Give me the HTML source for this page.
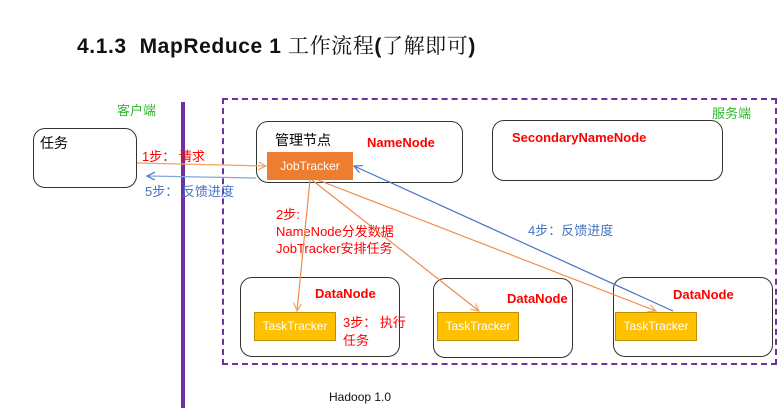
<!DOCTYPE html>
<html><head><meta charset="utf-8"><style>
body{margin:0;width:781px;height:414px;background:#fff;overflow:hidden;position:relative;font-family:"Liberation Sans","Noto Sans CJK SC",sans-serif}
.t{position:absolute;white-space:nowrap}
.box{position:absolute;border:1.5px solid #333;border-radius:12px;box-sizing:border-box;background:#fff}
.tt{position:absolute;background:#ffc000;border:1px solid #c09000;color:#fff;font-size:12px;text-align:center;box-sizing:border-box;line-height:27px}
.red{color:#f00}
.b{font-weight:bold;font-size:13px;color:#f00}
</style></head><body>
<div class="t" style="left:77px;top:30px;font-size:21px;font-weight:bold;color:#111;letter-spacing:0.6px">4.1.3&nbsp; MapReduce 1 <span style="font-weight:normal;font-family:'Noto Serif CJK SC',serif">工作流程</span>(<span style="font-weight:normal;font-family:'Noto Serif CJK SC',serif">了解即可</span>)</div>
<div style="position:absolute;left:222px;top:98px;width:555px;height:267px;border:2px dashed #7030a0;box-sizing:border-box"></div>
<div style="position:absolute;left:181px;top:102px;width:4px;height:306px;background:#7030a0"></div>
<div class="t" style="left:117px;top:100px;font-size:13px;color:#2cb82c">客户端</div>
<div class="t" style="left:712px;top:103px;font-size:13px;color:#2cb82c">服务端</div>
<div class="box" style="left:33px;top:128px;width:104px;height:60px"></div>
<div class="t" style="left:40px;top:133px;font-size:14px">任务</div>
<div class="box" style="left:256px;top:121px;width:207px;height:62px"></div>
<div class="t" style="left:275px;top:130px;font-size:14px">管理节点</div>
<div class="t b" style="left:367px;top:135px">NameNode</div>
<div style="position:absolute;left:267px;top:152px;width:86px;height:28px;background:#ed7d31;color:#fff;font-size:12px;text-align:center;line-height:28px">JobTracker</div>
<div class="box" style="left:492px;top:120px;width:231px;height:61px"></div>
<div class="t b" style="left:512px;top:130px">SecondaryNameNode</div>
<div class="box" style="left:240px;top:277px;width:160px;height:80px"></div>
<div class="box" style="left:433px;top:278px;width:140px;height:80px"></div>
<div class="box" style="left:613px;top:277px;width:160px;height:80px"></div>
<div class="t b" style="left:315px;top:286px">DataNode</div>
<div class="t b" style="left:507px;top:291px">DataNode</div>
<div class="t b" style="left:673px;top:287px">DataNode</div>
<div class="tt" style="left:254px;top:312px;width:82px;height:29px">TaskTracker</div>
<div class="tt" style="left:437px;top:312px;width:82px;height:29px">TaskTracker</div>
<div class="tt" style="left:615px;top:312px;width:82px;height:29px">TaskTracker</div>
<div class="t red" style="left:142px;top:146px;font-size:13px">1步： 请求</div>
<div class="t" style="left:145px;top:181px;font-size:13px;color:#4472c4">5步： 反馈进度</div>
<div class="t red" style="left:276px;top:206px;font-size:13px;line-height:17px">2步:<br>NameNode分发数据<br>JobTracker安排任务</div>
<div class="t red" style="left:343px;top:314px;font-size:13px;line-height:18px">3步： 执行<br>任务</div>
<div class="t" style="left:528px;top:220px;font-size:13px;color:#4472c4">4步：反馈进度</div>
<div class="t" style="left:329px;top:390px;font-size:12px;color:#111">Hadoop 1.0</div>
<svg width="781" height="414" style="position:absolute;left:0;top:0">
<defs>
<marker id="o" markerWidth="10" markerHeight="10" refX="8" refY="4" orient="auto" markerUnits="userSpaceOnUse"><path d="M0,0L8,4L0,8" fill="none" stroke="#f4a460" stroke-width="1.2"/></marker>
<marker id="bl" markerWidth="10" markerHeight="10" refX="8" refY="4" orient="auto" markerUnits="userSpaceOnUse"><path d="M0,0L8,4L0,8" fill="none" stroke="#4472c4" stroke-width="1.2"/></marker>
</defs>
<g stroke-width="1.2" fill="none">
<line x1="137" y1="163" x2="266" y2="166" stroke="#f4a460" marker-end="url(#o)"/>
<line x1="256" y1="178" x2="147" y2="176" stroke="#7fa8dc" marker-end="url(#bl)"/>
<line x1="310" y1="180" x2="297" y2="311" stroke="#f08c4a" marker-end="url(#o)"/>
<line x1="312" y1="180" x2="479" y2="311" stroke="#f08c4a" marker-end="url(#o)"/>
<line x1="318" y1="180" x2="656" y2="311" stroke="#f08c4a" marker-end="url(#o)"/>
<line x1="673" y1="311" x2="354" y2="166" stroke="#4472c4" marker-end="url(#bl)"/>
</g></svg>
</body></html>
